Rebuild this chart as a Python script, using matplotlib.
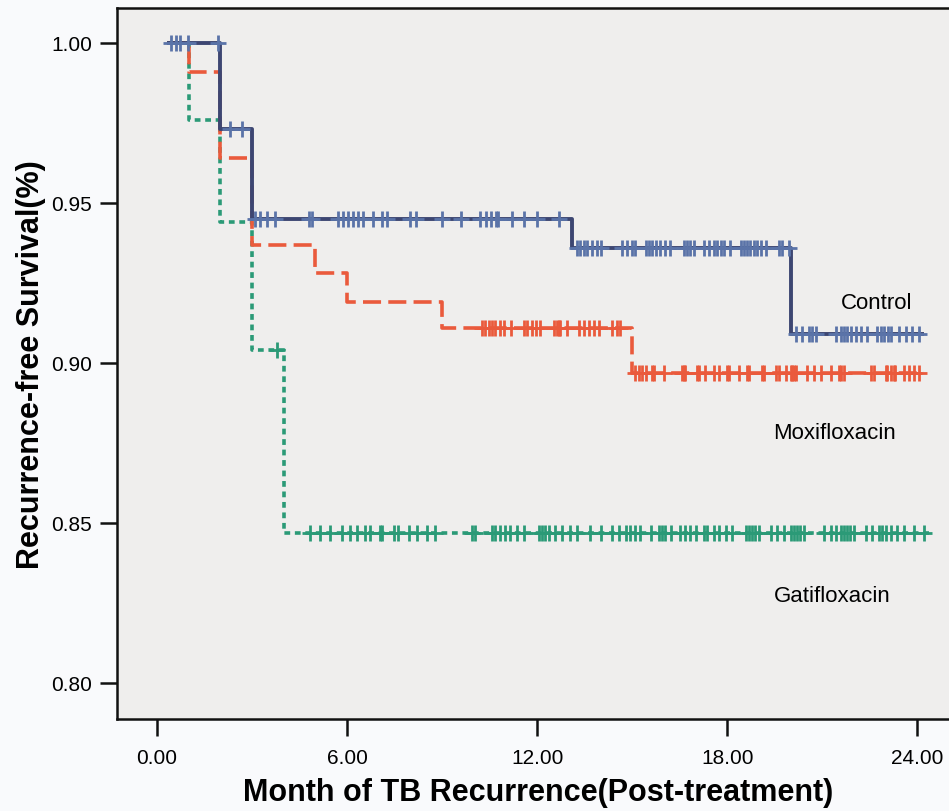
import numpy as np
import matplotlib.pyplot as plt

# Kaplan-Meier steps: event times and survival after each event
ctrl_t = [0.3, 2.0, 3.0, 13.1, 20.0, 24.2]
ctrl_s = [1.000, 0.973, 0.945, 0.936, 0.909]
moxi_t = [0.3, 1.0, 2.0, 3.0, 5.0, 6.0, 9.0, 15.0, 24.2]
moxi_s = [1.000, 0.991, 0.964, 0.937, 0.928, 0.919, 0.911, 0.897]
gati_t = [0.3, 1.0, 2.0, 3.0, 4.0, 24.4]
gati_s = [1.000, 0.976, 0.944, 0.904, 0.847]

# censored observations (months)
ctrl_cens = [0.45, 0.6, 0.73, 0.98, 1.93, 2.3, 2.68,
             3.09, 3.25, 3.46, 3.72, 4.80, 4.88, 5.72, 5.88, 6.04, 6.20, 6.35,
             6.51, 6.81, 7.09, 7.25, 8.00, 8.19, 8.98, 9.59, 10.21, 10.37,
             10.53, 10.69, 10.77, 11.19, 11.58, 12.0, 12.69,
             13.26, 13.36, 13.47, 13.58, 13.73, 13.89, 14.0, 14.68, 14.84, 15.0,
             15.1, 15.42, 15.52, 15.63, 15.74, 15.89, 16.05, 16.2, 16.63, 16.74,
             16.84, 16.94, 17.26, 17.42, 17.58, 17.68, 17.79, 17.89, 18.1, 18.42,
             18.52, 18.63, 18.73, 18.84, 18.94, 19.05, 19.21, 19.63, 19.74, 19.95,
             20.16, 20.37, 20.58, 20.68, 20.79, 21.42, 21.58, 21.69, 21.79, 21.9,
             22.05, 22.21, 22.42, 22.74, 22.84, 22.95, 23.06, 23.16, 23.42, 23.63,
             23.84, 24.05]
moxi_cens = [10.26, 10.36, 10.47, 10.58, 10.68, 10.84, 10.95, 11.16, 11.58,
             11.68, 11.84, 11.95, 12.1, 12.52, 12.63, 12.68, 12.73, 12.94, 13.31,
             13.47, 13.63, 13.78, 13.94, 14.36, 14.52, 14.63,
             15.1, 15.21, 15.31, 15.42, 15.63, 15.68, 16.0, 16.58, 16.63, 16.68,
             17.05, 17.1, 17.31, 17.58, 17.73, 18.0, 18.05, 18.37, 18.63, 18.68,
             19.1, 19.16, 19.53, 19.63, 19.84, 20.0, 20.05, 20.1, 20.16, 20.53,
             20.74, 20.95, 21.26, 21.53, 21.58, 21.68, 22.53, 22.63, 23.0, 23.05,
             23.16, 23.26, 23.31, 23.58, 23.74, 23.9, 24.05]
gati_cens = [3.79, 4.83, 5.15, 5.47, 5.84, 6.1, 6.31, 6.57, 6.73, 7.05, 7.1,
             7.47, 7.62, 7.94, 8.2, 8.52, 8.78, 9.94, 10.05, 10.57, 10.68, 10.84,
             11.0, 11.15, 11.37, 11.57, 12.05, 12.15, 12.26, 12.36, 12.57, 12.79,
             13.05, 13.26, 13.68, 14.0, 14.37, 14.58, 14.79, 14.94, 15.1, 15.26,
             15.58, 15.84, 15.95, 16.05, 16.21, 16.52, 16.68, 16.84, 17.0, 17.26,
             17.37, 17.58, 17.73, 17.95, 18.16, 18.58, 18.68, 18.79, 18.89, 19.0,
             19.37, 19.58, 19.79, 20.0, 20.1, 20.21, 20.31, 20.42, 21.05, 21.26,
             21.42, 21.58, 21.68, 21.79, 21.89, 22.0, 22.37, 22.58, 22.79, 22.89,
             23.0, 23.16, 23.37, 23.58, 23.9, 24.2]

xticks = [0, 6, 12, 18, 24]
yticks = [0.80, 0.85, 0.90, 0.95, 1.00]

sans = ['Liberation Sans', 'DejaVu Sans']


def level(times, surv, x):
    # survival level at time x (step, post)
    idx = np.searchsorted(np.array(times[1:-1]), x, side='right')
    return np.array(surv)[idx]


fig = plt.figure(figsize=(9.49, 8.12), dpi=100, facecolor='#f9fafc')
ax = fig.add_axes([117/949, 1 - 720/812, 1 - 117/949 + 0.01, (720 - 9)/812])
ax.set_facecolor('#efeeed')

groups = [
    (gati_t, gati_s, gati_cens, '#2b9a77', '#2b9a77', (1.6, 1.3), 2.6),
    (moxi_t, moxi_s, moxi_cens, '#ea5a3c', '#ea5a3c', (5.0, 2.0), 2.6),
    (ctrl_t, ctrl_s, ctrl_cens, '#3d4672', '#5a73a8', None, 2.8),
]
for z, (t, s, cens, lc, mc, dash, lw) in enumerate(groups):
    xs = list(t)
    ys = list(s) + [s[-1]]
    line, = ax.plot(xs, ys, drawstyle='steps-post', color=lc, lw=lw,
                    zorder=2 + z * 2, solid_capstyle='butt')
    if dash is not None:
        line.set_dashes(dash)
        line.set_dash_capstyle('butt')
    ax.plot(cens, level(t, s, np.array(cens)), ls='none', marker='+',
            ms=12, mew=2.0, color=mc, zorder=3 + z * 2)

ax.text(22.7, 0.9188, 'Control', fontsize=16, family=sans, ha='center', va='center')
ax.text(21.4, 0.8784, 'Moxifloxacin', fontsize=16, family=sans, ha='center', va='center')
ax.text(21.3, 0.8272, 'Gatifloxacin', fontsize=16, family=sans, ha='center', va='center')

ax.set_xlim(-1.264, 25.3)
ax.set_ylim(0.78875, 1.0109)
ax.set_xticks(xticks)
ax.set_xticklabels(['%.2f' % v for v in xticks], family=sans, fontsize=15)
ax.set_yticks(yticks)
ax.set_yticklabels(['%.2f' % v for v in yticks], family=sans, fontsize=15)
ax.tick_params(direction='out', length=12, width=1.8, color='#111111', pad=6)
ax.tick_params(axis='x', pad=9)

for side in ['left', 'top', 'bottom']:
    ax.spines[side].set_linewidth(1.8)
    ax.spines[side].set_color('#111111')
ax.spines['right'].set_visible(False)

ax.set_xlabel('Month of TB Recurrence(Post-treatment)', family=sans,
              fontweight='bold', fontsize=22, labelpad=7)
ax.set_ylabel('Recurrence-free Survival(%)', family=sans,
              fontweight='bold', fontsize=22, labelpad=4)

fig.savefig('out.png', dpi=100, facecolor=fig.get_facecolor())
